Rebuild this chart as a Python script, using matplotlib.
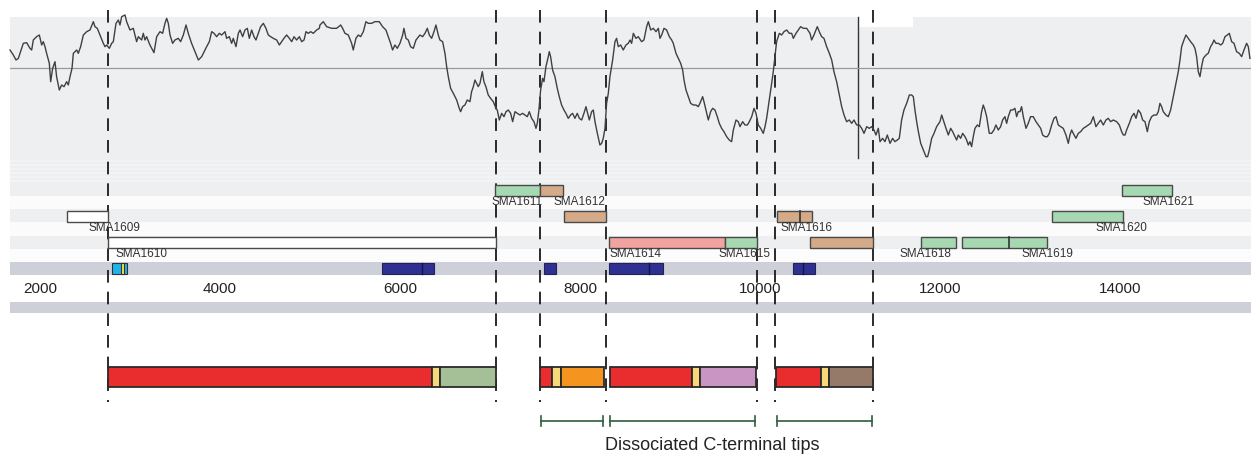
import matplotlib.pyplot as plt
from matplotlib.patches import Rectangle

plt.rcParams['font.family'] = ['Liberation Sans', 'DejaVu Sans']

# profile along the locus (bp, score)
trace_pos = [1667, 1704, 1734, 1760, 1778, 1815, 1852, 1889, 1908, 1926, 1963, 1993, 2019, 2037, 2056, 2074, 2104, 2119, 2141, 2167,
             2185, 2215, 2241, 2267, 2297, 2315, 2334, 2356, 2371, 2408, 2426, 2452, 2482, 2519, 2556, 2593, 2611, 2637, 2667, 2704,
             2723, 2741, 2771, 2797, 2815, 2845, 2871, 2889, 2908, 2945, 2963, 3000, 3037, 3074, 3093, 3130, 3148, 3167, 3185, 3222,
             3267, 3297, 3334, 3363, 3389, 3408, 3426, 3445, 3474, 3500, 3537, 3563, 3593, 3623, 3648, 3685, 3723, 3760, 3797, 3815,
             3852, 3882, 3908, 3934, 3963, 3993, 4019, 4056, 4074, 4104, 4130, 4148, 4178, 4204, 4223, 4252, 4278, 4304, 4326, 4352,
             4378, 4400, 4426, 4452, 4482, 4511, 4537, 4563, 4593, 4630, 4660, 4686, 4711, 4741, 4771, 4797, 4823, 4852, 4882, 4908,
             4934, 4956, 4982, 5008, 5037, 5074, 5104,
             5111, 5148, 5185, 5241, 5296, 5341, 5363, 5389, 5426, 5463, 5481, 5511, 5537, 5563, 5593, 5622, 5648, 5685, 5722, 5770,
             5807, 5844, 5870, 5896, 5918, 5944, 5970, 6000, 6030, 6044, 6067, 6092, 6118, 6148, 6178, 6222, 6252, 6278, 6304, 6326,
             6352, 6378, 6400, 6426, 6444, 6474, 6500, 6519, 6537, 6563, 6593, 6630, 6659, 6674, 6696, 6722, 6748, 6778, 6796, 6815,
             6833, 6852, 6870, 6889, 6915, 6933, 6955, 6981, 7007, 7037, 7067, 7081, 7104, 7130, 7156, 7178, 7204, 7230, 7252, 7278,
             7304, 7333, 7363, 7389, 7415, 7437, 7463, 7489, 7511, 7526, 7544, 7563, 7585, 7600, 7622, 7648, 7659, 7674, 7696, 7722,
             7748, 7770, 7796, 7822, 7844, 7870, 7896, 7918, 7944, 7970, 7993, 8019, 8044, 8067, 8081, 8104, 8130, 8148, 8167, 8193,
             8222, 8241, 8259, 8278, 8296, 8315, 8333, 8363, 8389, 8407, 8426, 8452, 8481, 8511, 8537, 8556,
             8574, 8593, 8622, 8648, 8685, 8711, 8741, 8760, 8786, 8815, 8845, 8871, 8889, 8908, 8934, 8963, 8993, 9019, 9037, 9067,
             9093, 9119, 9141, 9156, 9178, 9204, 9230, 9259, 9289, 9315, 9341, 9363, 9378, 9400, 9426, 9452, 9474, 9500, 9526, 9548,
             9574, 9600, 9630, 9659, 9685, 9704, 9734, 9759, 9778, 9808, 9834, 9860, 9882, 9908, 9934, 9956, 9982, 10008, 10037, 10056,
             10074, 10093, 10111, 10130, 10148, 10167, 10185, 10215, 10241, 10267, 10297, 10326, 10352, 10371, 10400, 10426, 10452, 10482, 10519, 10556,
             10574, 10600, 10622, 10637, 10659, 10685, 10711, 10741, 10771, 10797, 10822, 10852, 10882, 10908, 10934, 10963, 10993, 11019, 11045, 11074,
             11104, 11130, 11156, 11186, 11215, 11241, 11267, 11289, 11315, 11334, 11363, 11389, 11415, 11445, 11474, 11500, 11526, 11548, 11574, 11600,
             11630, 11660, 11686, 11704, 11722, 11741, 11760, 11786, 11815, 11845, 11863, 11882, 11908, 11934, 11963, 12000,
             12019, 12037, 12067, 12093, 12119, 12141, 12167, 12185, 12204, 12230, 12252, 12278, 12296, 12315, 12333, 12352, 12370, 12389, 12415, 12437,
             12463, 12481, 12500, 12519, 12548, 12574, 12600, 12622, 12648, 12674, 12696, 12722, 12741, 12759, 12785, 12807, 12833, 12852, 12870, 12889,
             12907, 12926, 12956, 12981, 13007, 13037, 13067, 13093, 13119, 13141, 13167, 13193, 13215, 13241, 13267, 13289, 13315, 13341, 13370, 13400,
             13426, 13444, 13463, 13481, 13511, 13537, 13563, 13593, 13622, 13648, 13674, 13704, 13733, 13759, 13785, 13815, 13844, 13870, 13896, 13926,
             13963, 13993, 14019, 14037, 14056, 14074, 14104, 14130, 14156, 14178, 14204, 14230, 14252, 14278, 14304, 14326, 14352, 14378, 14407, 14426,
             14444, 14463, 14481, 14511, 14537, 14563, 14593, 14622, 14648, 14667, 14685, 14711, 14733, 14759, 14785, 14815, 14833, 14852, 14870, 14889,
             14907, 14926, 14956, 14981, 15007, 15030, 15044, 15067, 15093, 15119, 15141, 15167, 15193, 15215, 15241, 15267, 15296, 15326, 15352, 15378,
             15407, 15426, 15444]
trace_val = [0.55, 0.40, 0.25, 0.30, 0.45, 0.75, 0.77, 0.60, 0.55, 0.85, 0.95, 1.00, 0.70, 0.80, 0.65, 0.45, 0.15, -0.40, 0.00, 0.20,
             -0.25, -0.65, -0.50, -0.55, -0.40, -0.50, -0.25, 0.00, 0.45, 0.55, 0.45, 0.65, 1.00, 1.10, 1.15, 1.40, 1.25, 1.20, 1.00, 0.75,
             0.65, 0.70, 0.60, 0.75, 0.80, 1.35, 1.45, 1.30, 1.55, 1.60, 1.40, 1.15, 1.20, 0.80, 0.95, 0.85, 1.05, 0.85, 0.95, 0.70,
             0.47, 0.95, 1.10, 1.05, 1.35, 1.50, 1.35, 1.00, 0.75, 0.85, 0.90, 0.80, 1.00, 1.30, 1.05, 0.75, 0.50, 0.25, 0.35, 0.45,
             0.65, 0.80, 1.10, 1.05, 0.95, 1.05, 1.00, 1.10, 0.90, 0.95, 0.75, 0.90, 0.65, 1.05, 1.15, 0.95, 1.15, 1.20, 0.90, 1.15,
             0.95, 0.85, 1.05, 1.25, 1.35, 1.20, 1.00, 0.95, 0.90, 0.85, 0.70, 0.80, 0.90, 1.00, 0.90, 0.80, 0.95, 0.85, 0.95, 0.80,
             0.85, 1.10, 1.05, 1.10, 1.05, 1.15, 1.20,
             1.30, 1.40, 1.25, 1.20, 1.20, 1.30, 1.20, 1.05, 1.00, 0.75, 0.55, 0.90, 1.00, 0.95, 1.10, 1.40, 1.35, 1.35, 1.40, 1.40,
             1.25, 1.15, 0.95, 0.75, 0.55, 0.70, 0.60, 0.75, 1.00, 1.20, 0.90, 0.85, 0.65, 0.60, 0.85, 1.00, 0.95, 1.05, 1.20, 1.00,
             0.90, 1.10, 1.30, 1.00, 0.85, 0.80, 0.45, 0.05, -0.25, -0.60, -0.75, -0.95, -1.20, -1.30, -1.15, -1.10, -0.95, -1.00, -0.70, -0.55,
             -0.35, -0.45, -0.55, -0.45, -0.10, -0.40, -0.55, -0.80, -0.90, -1.00, -1.20, -1.25, -1.55, -1.35, -1.45, -1.30, -1.25, -1.35, -1.60, -1.30,
             -1.35, -1.40, -1.35, -1.40, -1.45, -1.30, -1.50, -1.60, -1.80, -1.65, -1.25, -0.65, -0.30, -0.40, 0.05, 0.35, 0.50, 0.35, -0.05, -0.25,
             -0.60, -0.85, -1.10, -1.25, -1.35, -1.50, -1.40, -1.35, -1.50, -1.35, -1.50, -1.55, -1.35, -1.15, -1.30, -1.55, -1.30, -1.25, -1.60, -1.95,
             -2.30, -2.25, -2.10, -1.80, -1.05, -0.75, -0.25, 0.25, 0.80, 0.90, 0.65, 0.70, 0.55, 0.70, 0.75, 0.85,
             0.75, 1.05, 0.90, 0.95, 0.80, 0.85, 1.25, 1.40, 1.15, 1.20, 1.10, 1.20, 0.90, 1.00, 1.20, 1.15, 0.95, 0.85, 0.75, 0.45,
             0.30, 0.15, -0.05, -0.35, -0.65, -0.85, -1.05, -1.10, -1.10, -1.15, -1.00, -0.85, -1.00, -1.25, -1.55, -1.30, -1.20, -1.25, -1.45, -1.65,
             -1.80, -1.90, -2.05, -2.15, -2.20, -1.85, -1.55, -1.60, -1.75, -1.60, -1.70, -1.70, -1.60, -1.45, -1.20, -1.35, -1.70, -1.80, -1.95, -1.75,
             -1.50, -1.15, -0.80, -0.45, -0.10, 0.35, 0.80, 1.05, 1.00, 1.10, 1.15, 1.05, 1.05, 0.90, 1.05, 1.15, 1.25, 1.20, 1.20, 1.05,
             0.85, 1.00, 1.15, 1.25, 1.10, 0.95, 0.90, 0.65, 0.45, 0.25, -0.10, -0.40, -0.80, -1.15, -1.40, -1.60, -1.55, -1.65, -1.55, -1.70,
             -1.70, -1.80, -1.95, -1.75, -1.80, -1.75, -1.85, -2.00, -1.80, -2.20, -2.10, -2.20, -2.00, -2.25, -2.10, -2.20, -2.15, -2.10, -1.55, -1.25,
             -1.05, -0.80, -0.80, -0.85, -1.25, -1.60, -1.90, -2.25, -2.45, -2.65, -2.65, -2.45, -2.10, -1.95, -1.75, -1.60,
             -1.40, -1.55, -1.80, -2.00, -1.80, -1.90, -2.05, -2.15, -2.00, -2.10, -1.95, -2.05, -2.15, -2.30, -2.20, -2.35, -2.05, -1.80, -1.70, -1.75,
             -1.30, -1.10, -1.25, -1.45, -1.95, -1.95, -1.85, -1.70, -1.85, -1.75, -1.55, -1.45, -1.65, -1.45, -1.25, -1.25, -1.20, -1.45, -1.30, -1.30,
             -1.15, -1.45, -1.80, -1.65, -1.45, -1.45, -1.60, -1.70, -1.80, -2.00, -2.05, -2.05, -1.95, -1.70, -1.50, -1.45, -1.70, -1.75, -1.80, -2.00,
             -2.25, -2.00, -1.85, -1.95, -2.10, -1.95, -1.90, -1.80, -1.75, -1.70, -1.65, -1.45, -1.75, -1.65, -1.55, -1.70, -1.55, -1.50, -1.60, -1.55,
             -1.60, -1.70, -1.90, -2.00, -2.00, -1.85, -1.65, -1.45, -1.35, -1.50, -1.25, -1.35, -1.55, -1.60, -1.90, -1.60, -1.45, -1.40, -1.40, -1.30,
             -1.05, -1.15, -1.30, -1.40, -1.45, -1.25, -0.85, -0.45, -0.10, 0.25, 0.65, 0.85, 1.00, 0.90, 0.80, 0.70, 0.60, 0.35, -0.10, -0.25,
             0.05, 0.30, 0.40, 0.45, 0.65, 0.75, 0.85, 0.75, 0.75, 0.70, 0.75, 0.95, 1.00, 1.05, 0.80, 0.75, 0.50, 0.45, 0.35, 0.55,
             0.75, 0.65, 0.30]

# genes: start, end, row, colour
gene_start = [2300, 2756, 7056, 7556, 7822, 8322, 9611, 10189, 10556, 11789, 12244, 13244, 14022]
gene_end = [2756, 7067, 7556, 7811, 8289, 9611, 9967, 10578, 11256, 12178, 13189, 14033, 14578]
gene_row = [1, 2, 0, 0, 1, 2, 2, 1, 2, 2, 2, 1, 0]
gene_color = ['white', 'white', '#a6d9b2', '#d4aa88', '#d4aa88', '#f2a3a0', '#a6d9b2',
              '#d4aa88', '#d4aa88', '#a6d9b2', '#a6d9b2', '#a6d9b2', '#a6d9b2']
gene_split = [10444, 12767]   # internal dividers (SMA1616, SMA1619)
label_names = ['SMA1609', 'SMA1610', 'SMA1611', 'SMA1612', 'SMA1614', 'SMA1615', 'SMA1616',
               'SMA1618', 'SMA1619', 'SMA1620', 'SMA1621']
label_pos = [2833, 3128, 7300, 7989, 8617, 9833, 10522, 11839, 13189, 14011, 14544]
label_row = [1, 2, 0, 0, 2, 2, 1, 2, 2, 1, 0]

# protein domain hits
dom_start = [5800, 7600, 8322, 10367]
dom_end = [6378, 7733, 8922, 10611]
dom_split = [6244, 8767, 10478]

# fragment boundaries
cuts = [2756, 7067, 7556, 8289, 9967, 10167, 11256]
marker = 11089

# reconstructed proteins: segments (start, end, colour)
prot_segments = [
    (2756, 6356, '#e92d2f'), (6356, 6444, '#f7d97a'), (6444, 7067, '#a5bf97'),
    (7556, 7689, '#e92d2f'), (7689, 7789, '#f7d97a'), (7789, 8267, '#f5951f'),
    (8333, 9244, '#e92d2f'), (9244, 9333, '#f7d97a'), (9333, 9956, '#c995c3'),
    (10178, 10678, '#e92d2f'), (10678, 10767, '#f7d97a'), (10767, 11256, '#957a69'),
]
tips = [(7567, 8256), (8333, 9944), (10189, 11244)]

ticks = [2000, 4000, 6000, 8000, 10000, 12000, 14000]
view = (1556, 15456)
seq_start = 1667

W, H = 1251, 455
fig = plt.figure(figsize=(W / 100, H / 100), dpi=100)
ax = fig.add_axes([0, 0, 1, 1])
ax.set_xlim(*view)
ax.set_ylim(H, 0)
ax.axis('off')

def band(y0, y1, color):
    ax.add_patch(Rectangle((seq_start, y0), view[1] - seq_start, y1 - y0,
                           facecolor=color, edgecolor='none', zorder=0))

band(17, 184, '#eeeff1')
for y in range(160, 184, 4):
    band(y, y + 2, '#f2f3f5')
band(184, 196, '#eeeff1')
band(196, 209, '#fbfbfb')
band(209, 222, '#eeeff1')
band(222, 236, '#fbfbfb')
band(236, 249, '#eeeff1')
band(249, 262, '#fcfcfc')
band(262, 275, '#cdd0d8')
band(302, 313, '#cdd0d8')
ax.add_patch(Rectangle((11100, 16), 600, 11, facecolor='white', edgecolor='none', zorder=0.5))

rows_y = [185, 211, 237]
bh = 11
for s, e, r, c in zip(gene_start, gene_end, gene_row, gene_color):
    ax.add_patch(Rectangle((s, rows_y[r]), e - s, bh, facecolor=c,
                           edgecolor='#4a4a4a', lw=1, zorder=3))
for x, r in zip(gene_split, [1, 2]):
    ax.plot([x, x], [rows_y[r], rows_y[r] + bh], color='#333333', lw=1.2, zorder=4)
for name, x, r in zip(label_names, label_pos, label_row):
    ax.text(x, rows_y[r] + bh + 6, name, ha='center', va='center',
            fontsize=8.5, color='#333333', zorder=5)

dy = 263
ax.add_patch(Rectangle((2800, dy), 167, bh, facecolor='#1fb4e8', edgecolor='#333333', lw=0.8, zorder=3))
ax.add_patch(Rectangle((2900, dy), 33, bh, facecolor='#f6e04a', edgecolor='#333333', lw=0.8, zorder=4))
for s, e in zip(dom_start, dom_end):
    ax.add_patch(Rectangle((s, dy), e - s, bh, facecolor='#2e3192',
                           edgecolor='#222255', lw=0.8, zorder=3))
for x in dom_split:
    ax.plot([x, x], [dy, dy + bh], color='#151540', lw=1, zorder=4)

for t in ticks:
    ax.text(t, 289, str(t), ha='center', va='center', fontsize=11, color='#222222')

for x in cuts:
    ax.plot([x, x], [10, 402], color='#1a1a1a', lw=1.3, ls=(0, (7, 5)), zorder=2)
ax.plot([marker, marker], [17, 158], color='#333333', lw=1, zorder=6)

for s, e, c in prot_segments:
    ax.add_patch(Rectangle((s, 367), e - s, 20, facecolor=c,
                           edgecolor='#2a2a2a', lw=1.3, zorder=5))

for s, e in tips:
    ax.plot([s, e], [421, 421], color='#2f5e3e', lw=1.2, zorder=5)
    for x in (s, e):
        ax.plot([x, x], [416, 426], color='#2f5e3e', lw=1.2, zorder=5)
ax.text(9467, 446, 'Dissociated C-terminal tips', ha='center', va='center',
        fontsize=13, color='#222222')

# profile track
ax2 = fig.add_axes([0, 1 - 160 / H, 1, 150 / H])
ax2.set_xlim(*view)
ax2.set_ylim(-2.75, 1.75)
ax2.axis('off')
ax2.patch.set_alpha(0)
ax2.plot([seq_start, view[1]], [0, 0], color='#9a9a9a', lw=0.9)
ax2.plot(trace_pos, trace_val, color='#404040', lw=1.0)

fig.savefig('out.png', dpi=100)
